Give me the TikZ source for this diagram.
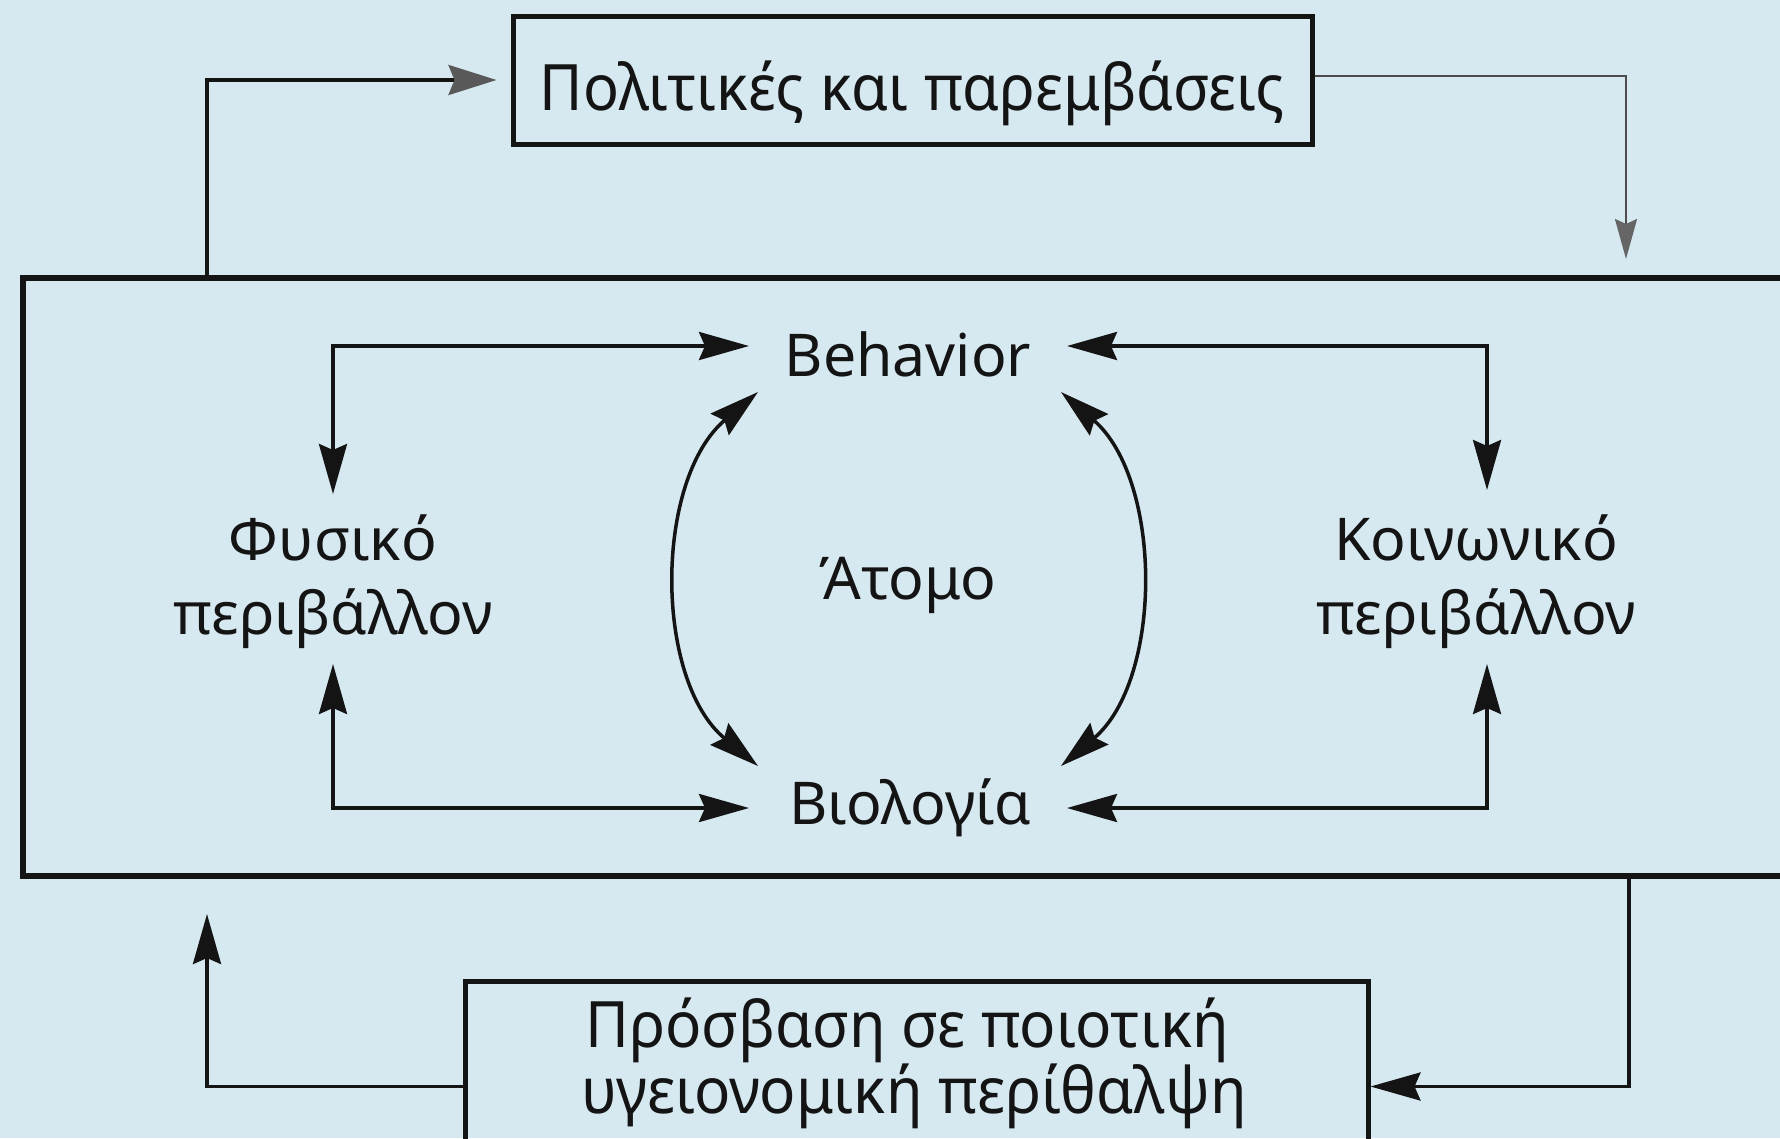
\documentclass[tikz,border=0pt]{standalone}
\usepackage{fontspec}
\setmainfont{Noto Sans}
\usetikzlibrary{arrows.meta}
\definecolor{bg}{RGB}{214,233,241}
\definecolor{ink}{RGB}{20,20,20}
\begin{document}
\begin{tikzpicture}[x=1pt,y=-1pt,
  lbl/.style={font=\fontsize{59}{74}\selectfont, inner sep=0pt, align=center, text=ink},
  boxlbl/.style={font=\fontsize{64}{66}\selectfont, inner sep=0pt, align=center, text=ink},
  frame/.style={draw=ink, line width=5pt, inner sep=0pt},
  conn/.style={draw=ink, line width=3.5pt},
  tip/.style={-{Stealth[length=50pt,width=28pt,inset=6pt]}},
  dbl/.style={{Stealth[length=50pt,width=28pt,inset=6pt]}-{Stealth[length=50pt,width=28pt,inset=6pt]}},
  greytip/.style={-{Stealth[length=40pt,width=22pt,inset=5pt,color=black!60]}},
  bigtip/.style={-{Stealth[length=48pt,width=30pt,inset=6pt,color=black!65]}}
]
\fill[bg] (0,0) rectangle (1780,1138);
\useasboundingbox (0,0) rectangle (1780,1138);
\clip (0,0) rectangle (1780,1138);

% outer frame (open to the right)
\draw[draw=ink, line width=6pt] (1800,278) -- (23,278) -- (23,876) -- (1800,876);

% boxes
\node[frame, minimum width=799pt, minimum height=128pt] (pol) at (912.5,80) {};
\node[boxlbl, anchor=base] (poltxt) at (912,110) {\scalebox{0.93}[1]{Πολιτικές και παρεμβάσεις}};
\node[frame, anchor=north, minimum width=903pt, minimum height=210pt] (acc) at (916.5,979) {};
\node[boxlbl, anchor=base] (acctxt1) at (907,1047) {\scalebox{0.94}[1]{Πρόσβαση σε ποιοτική}};
\node[boxlbl, anchor=base] (acctxt2) at (914,1113) {\scalebox{0.94}[1]{υγειονομική περίθαλψη}};

% inner labels
\node[lbl, anchor=base] (beh) at (908,376) {Behavior};
\node[lbl, anchor=base] (bio) at (910,824) {Βιολογία};
\node[lbl, anchor=base] (atomo) at (908,599) {Άτομο};
\node[lbl] (phys) at (333,582) {Φυσικό\\περιβάλλον};
\node[lbl] (soc) at (1476,582) {Κοινωνικό\\περιβάλλον};

% coordinates
\coordinate (frTopL) at (207,278);
\coordinate (frTopR) at (1626,259);
\coordinate (frBotR) at (1629,876);
\coordinate (frBotL) at (207,914);
\coordinate (behL) at (749,346);
\coordinate (behR) at (1067,346);
\coordinate (bioL) at (749,808);
\coordinate (bioR) at (1067,808);
\coordinate (physT) at (333,494);
\coordinate (physB) at (333,664);
\coordinate (socT) at (1487,490);
\coordinate (socB) at (1487,664);
\coordinate (behSW) at (758,392);
\coordinate (bioNW) at (758,766);
\coordinate (behSE) at (1061,392);
\coordinate (bioNE) at (1061,766);

% outer loop connectors
\draw[draw=ink, line width=3.5pt, bigtip, shorten >=14pt] (frTopL) |- (pol.west);
\draw[draw=black!70, line width=2.5pt, greytip] (pol.east) ++(0,-4) -| (frTopR);
\draw[conn, tip] (frBotR) |- (acc.east);
\draw[conn, tip] (acc.west) -| (frBotL);

% inner connectors
\draw[conn, dbl] (physT) |- (behL);
\draw[conn, dbl] (physB) |- (bioL);
\draw[conn, dbl] (socT) |- (behR);
\draw[conn, dbl] (socB) |- (bioR);

% curved arrows
\draw[conn, dbl] (behSW) .. controls (654,480) and (654,680) .. (bioNW);
\draw[conn, dbl] (behSE) .. controls (1163,480) and (1163,680) .. (bioNE);
\end{tikzpicture}
\end{document}
